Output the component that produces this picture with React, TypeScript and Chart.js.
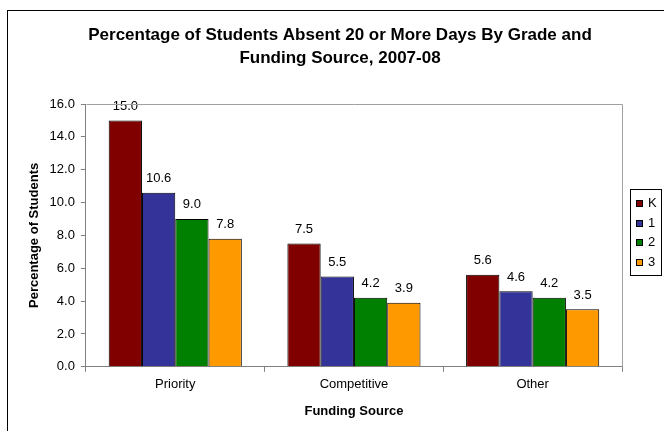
import React, { useEffect, useRef } from "react";
import { Chart, registerables } from "chart.js";

Chart.register(...registerables);

const TITLE_LINES = ["Percentage of Students Absent 20 or More Days By Grade and", "Funding Source, 2007-08"];
const CATEGORIES = ["Priority", "Competitive", "Other"];
const SERIES_LABELS = ["K", "1", "2", "3"];
const SERIES_COLORS = ["#800000", "#333399", "#008000", "#FF9900"];
const VALUES_K = [15.0, 7.5, 5.6];
const VALUES_1 = [10.6, 5.5, 4.6];
const VALUES_2 = [9.0, 4.2, 4.2];
const VALUES_3 = [7.8, 3.9, 3.5];
const Y_TITLE = "Percentage of Students";
const X_TITLE = "Funding Source";

const FONT = "'Liberation Sans', Arial, sans-serif";

const framePlugin = {
  id: "frame",
  beforeDraw(chart: any) {
    const ctx = chart.ctx;
    ctx.save();
    ctx.fillStyle = "#fff";
    ctx.fillRect(0, 0, chart.width, chart.height);
    ctx.strokeStyle = "#000";
    ctx.lineWidth = 1;
    ctx.strokeRect(7.5, 10.5, 800, 600);
    ctx.font = `bold 17px ${FONT}`;
    ctx.fillStyle = "#000";
    ctx.textAlign = "center";
    ctx.textBaseline = "middle";
    TITLE_LINES.forEach((line, i) => {
      ctx.fillText(line, 340, 35 + i * 23);
    });
    ctx.restore();
  },
  afterDraw(chart: any) {
    const { ctx, chartArea } = chart;
    ctx.save();
    ctx.strokeStyle = "#a0a0a0";
    ctx.lineWidth = 1;
    ctx.beginPath();
    ctx.moveTo(Math.round(chartArea.left) + 0.5, Math.round(chartArea.top) + 0.5);
    ctx.lineTo(Math.round(chartArea.right) + 0.5, Math.round(chartArea.top) + 0.5);
    ctx.lineTo(Math.round(chartArea.right) + 0.5, Math.round(chartArea.bottom) + 0.5);
    ctx.stroke();
    ctx.restore();
  },
};

const labelsPlugin = {
  id: "barLabels",
  afterDatasetsDraw(chart: any) {
    const ctx = chart.ctx;
    ctx.save();
    ctx.font = `13px ${FONT}`;
    ctx.fillStyle = "#000";
    ctx.textAlign = "center";
    ctx.textBaseline = "alphabetic";
    chart.data.datasets.forEach((ds: any, i: number) => {
      const meta = chart.getDatasetMeta(i);
      meta.data.forEach((el: any, j: number) => {
        ctx.fillText(Number(ds.data[j]).toFixed(1), el.x, el.y - 10.5);
      });
    });
    ctx.restore();
  },
};

const legendPlugin = {
  id: "boxLegend",
  afterDraw(chart: any) {
    const ctx = chart.ctx;
    const x0 = 630.5;
    const y0 = 189.5;
    const w = 31;
    const h = 86;
    ctx.save();
    ctx.strokeStyle = "#000";
    ctx.lineWidth = 1;
    ctx.strokeRect(x0, y0, w, h);
    ctx.font = `13px ${FONT}`;
    ctx.textAlign = "left";
    ctx.textBaseline = "middle";
    chart.data.datasets.forEach((ds: any, i: number) => {
      const cy = 203 + i * 19.7;
      ctx.fillStyle = ds.backgroundColor;
      ctx.fillRect(636, Math.round(cy) - 3, 7, 7);
      ctx.strokeStyle = "#000";
      ctx.strokeRect(636.5, Math.round(cy) - 2.5, 6, 6);
      ctx.fillStyle = "#000";
      ctx.fillText(ds.label, 648, cy + 0.5);
    });
    ctx.restore();
  },
};

export default function App() {
  const ref = useRef<HTMLCanvasElement | null>(null);
  useEffect(() => {
    if (!ref.current) return;
    const seriesValues = [VALUES_K, VALUES_1, VALUES_2, VALUES_3];
    const chart = new Chart(ref.current, {
      type: "bar",
      data: {
        labels: CATEGORIES,
        datasets: SERIES_LABELS.map((label, i) => ({
          label,
          data: seriesValues[i],
          backgroundColor: SERIES_COLORS[i],
          borderColor: "#000",
          borderWidth: 1,
          categoryPercentage: 0.745,
          barPercentage: 1.0,
        })),
      },
      options: {
        responsive: false,
        animation: false,
        layout: { padding: { left: 10, right: 42, top: 104, bottom: 8 } },
        plugins: {
          legend: { display: false },
          tooltip: { enabled: false },
          title: { display: false },
        },
        scales: {
          x: {
            grid: { display: true, drawOnChartArea: false, drawTicks: true, tickLength: 5, color: "#808080", offset: true },
            border: { display: true, color: "#808080" },
            ticks: { color: "#000", font: { family: FONT, size: 13 }, padding: 5 },
            title: {
              display: true,
              text: X_TITLE,
              color: "#000",
              font: { family: FONT, size: 13, weight: "bold" },
              padding: { top: 6, bottom: 4 },
            },
          },
          y: {
            min: 0,
            max: 16,
            grid: { display: true, drawOnChartArea: false, drawTicks: true, tickLength: 5, color: "#808080" },
            border: { display: true, color: "#808080" },
            ticks: {
              stepSize: 2,
              color: "#000",
              font: { family: FONT, size: 13 },
              padding: 6,
              callback: (v: any) => Number(v).toFixed(1),
            },
            title: {
              display: true,
              text: Y_TITLE,
              color: "#000",
              font: { family: FONT, size: 13, weight: "bold" },
              padding: { top: 17, bottom: 1 },
            },
          },
        },
      },
      plugins: [framePlugin, labelsPlugin, legendPlugin],
    });
    return () => chart.destroy();
  }, []);
  return (
    <div style={{ position: "absolute", left: 0, top: 0, width: 664, height: 431 }}>
      <canvas ref={ref} width={664} height={431} style={{ display: "block", width: 664, height: 431 }} />
    </div>
  );
}
